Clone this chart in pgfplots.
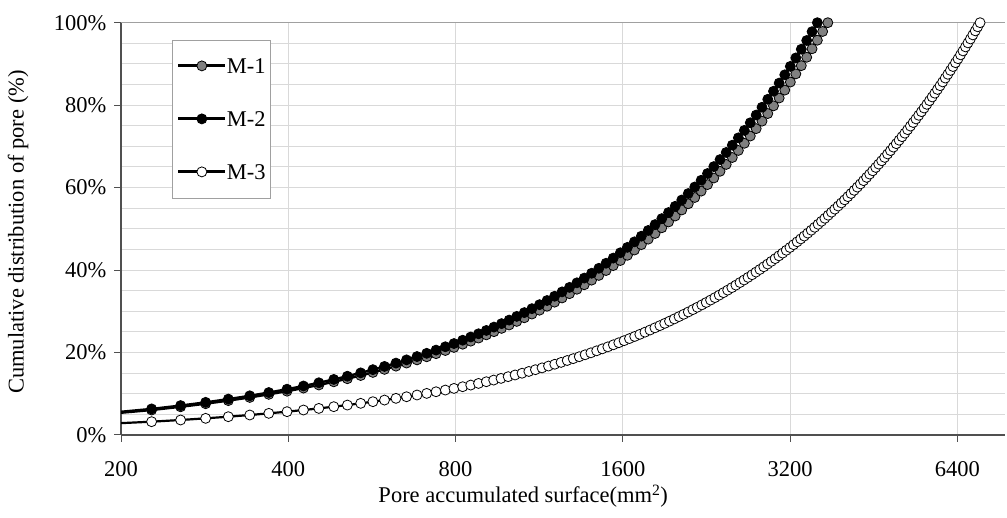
\documentclass[border=0pt]{standalone}
\usepackage{fontspec}
\setmainfont{Liberation Serif}
\usepackage{pgfplots}
\pgfplotsset{compat=1.18}
\definecolor{gridc}{RGB}{217,217,217}
\definecolor{axc}{RGB}{80,80,80}
\definecolor{topc}{RGB}{160,160,160}
\definecolor{mgray}{RGB}{128,128,128}
\begin{document}
\fontsize{22.5}{27}\selectfont
\begin{tikzpicture}
\begin{axis}[
  width=884pt, height=412.3pt, scale only axis,
  xmode=log, log basis x=2,
  xmin=200, xmax=7800, ymin=0, ymax=100,
  axis x line*=bottom, axis y line*=left,
  axis line style={axc, line width=1.5pt, -},
  xtick={200,400,800,1600,3200,6400},
  xticklabels={200,400,800,1600,3200,6400},
  minor xtick={},
  ytick={0,20,40,60,80,100},
  yticklabels={0\%,20\%,40\%,60\%,80\%,100\%},
  minor ytick={5,10,15,25,30,35,45,50,55,65,70,75,85,90,95},
  xmajorgrids, ymajorgrids, yminorgrids,
  major grid style={gridc, line width=1pt},
  minor grid style={gridc, line width=1pt},
  tick align=outside,
  major tick length=7pt, minor tick length=0pt,
  tick style={axc, line width=1pt},
  xticklabel style={yshift=-12pt},
  xlabel={Pore accumulated surface(mm\textsuperscript{2})},
  xlabel style={at={(rel axis cs:0.455,-0.1649)}, anchor=base},
  ylabel={Cumulative distribution of pore (\%)},
  ylabel style={at={(rel axis cs:-0.1165,0.492)}, anchor=center},
  legend cell align=left,
  legend style={at={(rel axis cs:0.0574,0.9588)}, anchor=north west,
    draw=topc, fill=white,
    inner xsep=5pt, inner ysep=18pt, row sep=37pt,
    nodes={inner sep=0pt, text height=16pt, text depth=0pt},
    /tikz/every even column/.append style={column sep=3pt}},
  legend image code/.code={\draw[mark repeat=2,mark phase=2,#1] plot coordinates {(0pt,0pt)(23.5pt,0pt)(47pt,0pt)};},
  legend image post style={line width=2.8pt},
]
\coordinate (sw) at (rel axis cs:0,0);
\coordinate (ne) at (rel axis cs:1,1);
\draw[topc, line width=1.6pt] (rel axis cs:0,1) -- (rel axis cs:1,1);

\addplot[black, line width=2.4pt, mark=*, mark size=5pt, mark options={fill=mgray, draw=black, line width=0.8pt, solid}] coordinates {
(170,4.54)(227,6.06)(256,6.84)(284,7.59)(312,8.34)(341,9.11)(369,9.86)(398,10.63)(426,11.38)(454,12.13)(483,12.90)(511,13.65)(540,14.43)(568,15.18)(596,15.92)(625,16.70)(653,17.45)(682,18.22)(710,18.97)(738,19.72)(767,20.49)(795,21.24)(824,22.02)(852,22.76)(880,23.51)(909,24.29)(938,25.06)(968,25.86)(999,26.69)(1031,27.55)(1064,28.43)(1098,29.34)(1133,30.27)(1169,31.23)(1206,32.22)(1244,33.24)(1283,34.28)(1323,35.35)(1364,36.44)(1406,37.56)(1449,38.71)(1493,39.89)(1538,41.09)(1584,42.32)(1631,43.58)(1679,44.86)(1728,46.17)(1778,47.50)(1829,48.87)(1881,50.26)(1934,51.67)(1988,53.11)(2043,54.58)(2099,56.08)(2156,57.60)(2214,59.15)(2273,60.73)(2333,62.33)(2394,63.96)(2456,65.62)(2519,67.30)(2583,69.01)(2648,70.75)(2714,72.51)(2781,74.30)(2849,76.12)(2918,77.96)(2988,79.83)(3059,81.73)(3131,83.65)(3204,85.60)(3278,87.58)(3353,89.58)(3429,91.61)(3506,93.67)(3584,95.75)(3663,97.87)(3743,100)
};
\addlegendentry{M-1}

\addplot[black, line width=2.4pt, mark=*, mark size=5pt, mark options={fill=black, draw=black, line width=0.8pt, solid}] coordinates {
(170,4.74)(227,6.33)(256,7.14)(284,7.92)(312,8.71)(341,9.51)(369,10.30)(398,11.11)(426,11.89)(454,12.67)(483,13.48)(511,14.26)(540,15.07)(568,15.85)(596,16.63)(625,17.44)(653,18.22)(682,19.03)(710,19.81)(738,20.59)(767,21.40)(795,22.18)(824,22.99)(852,23.77)(880,24.55)(909,25.36)(938,26.17)(968,27.01)(999,27.87)(1031,28.77)(1064,29.69)(1098,30.64)(1133,31.61)(1169,32.62)(1206,33.65)(1244,34.71)(1283,35.80)(1323,36.91)(1364,38.06)(1406,39.23)(1449,40.43)(1493,41.66)(1538,42.91)(1584,44.20)(1631,45.51)(1679,46.85)(1728,48.22)(1778,49.61)(1829,51.03)(1881,52.48)(1934,53.96)(1988,55.47)(2043,57.00)(2099,58.57)(2156,60.16)(2214,61.78)(2273,63.42)(2333,65.10)(2394,66.80)(2456,68.53)(2519,70.29)(2583,72.07)(2648,73.88)(2714,75.73)(2781,77.60)(2849,79.49)(2918,81.42)(2988,83.37)(3059,85.35)(3131,87.36)(3204,89.40)(3278,91.46)(3353,93.56)(3429,95.68)(3506,97.82)(3584,100)
};
\addlegendentry{M-2}

\addplot[black, line width=2.2pt, mark=*, mark size=5pt, mark options={fill=white, draw=black, line width=0.8pt, solid}] coordinates {
(170,2.42)(227,3.23)(256,3.64)(284,4.04)(312,4.44)(341,4.85)(369,5.25)(398,5.66)(426,6.06)(454,6.45)(483,6.87)(511,7.26)(540,7.68)(568,8.08)(596,8.47)(625,8.89)(653,9.28)(682,9.70)(710,10.09)(738,10.49)(767,10.90)(795,11.30)(824,11.71)(852,12.11)(880,12.51)(909,12.92)(937,13.32)(966,13.73)(995,14.15)(1024,14.56)(1054,14.98)(1084,15.41)(1114,15.84)(1145,16.28)(1176,16.72)(1207,17.16)(1239,17.61)(1271,18.07)(1303,18.52)(1336,18.99)(1369,19.46)(1402,19.93)(1436,20.42)(1470,20.90)(1504,21.38)(1539,21.88)(1574,22.38)(1609,22.88)(1645,23.39)(1681,23.90)(1717,24.41)(1754,24.94)(1791,25.46)(1828,25.99)(1866,26.53)(1904,27.07)(1942,27.61)(1981,28.16)(2020,28.72)(2059,29.27)(2099,29.84)(2139,30.41)(2179,30.98)(2220,31.56)(2261,32.14)(2302,32.73)(2344,33.32)(2386,33.92)(2428,34.52)(2471,35.13)(2514,35.74)(2557,36.35)(2601,36.98)(2645,37.60)(2689,38.23)(2734,38.87)(2779,39.51)(2824,40.15)(2870,40.80)(2916,41.46)(2962,42.11)(3009,42.78)(3056,43.45)(3103,44.11)(3151,44.80)(3199,45.48)(3247,46.16)(3296,46.86)(3345,47.56)(3394,48.25)(3444,48.96)(3494,49.67)(3544,50.38)(3595,51.11)(3646,51.83)(3697,52.56)(3749,53.30)(3801,54.04)(3853,54.78)(3906,55.53)(3959,56.28)(4012,57.04)(4066,57.81)(4120,58.57)(4174,59.34)(4229,60.12)(4284,60.90)(4339,61.69)(4395,62.48)(4451,63.28)(4507,64.08)(4564,64.89)(4621,65.70)(4678,66.51)(4736,67.33)(4794,68.16)(4852,68.98)(4911,69.82)(4970,70.66)(5029,71.50)(5089,72.35)(5149,73.20)(5209,74.06)(5270,74.92)(5331,75.79)(5392,76.66)(5454,77.54)(5516,78.42)(5578,79.30)(5641,80.20)(5704,81.09)(5767,81.99)(5831,82.90)(5895,83.81)(5959,84.72)(6024,85.64)(6089,86.57)(6154,87.49)(6220,88.43)(6286,89.37)(6352,90.30)(6419,91.26)(6486,92.21)(6553,93.16)(6621,94.13)(6689,95.10)(6757,96.06)(6826,97.04)(6895,98.02)(6964,99.01)(7034,100)
};
\addlegendentry{M-3}
\end{axis}
\pgfresetboundingbox
\path[use as bounding box] ([xshift=-121pt,yshift=-83pt]sw) rectangle ([xshift=2pt,yshift=22.7pt]ne);
\end{tikzpicture}
\end{document}
